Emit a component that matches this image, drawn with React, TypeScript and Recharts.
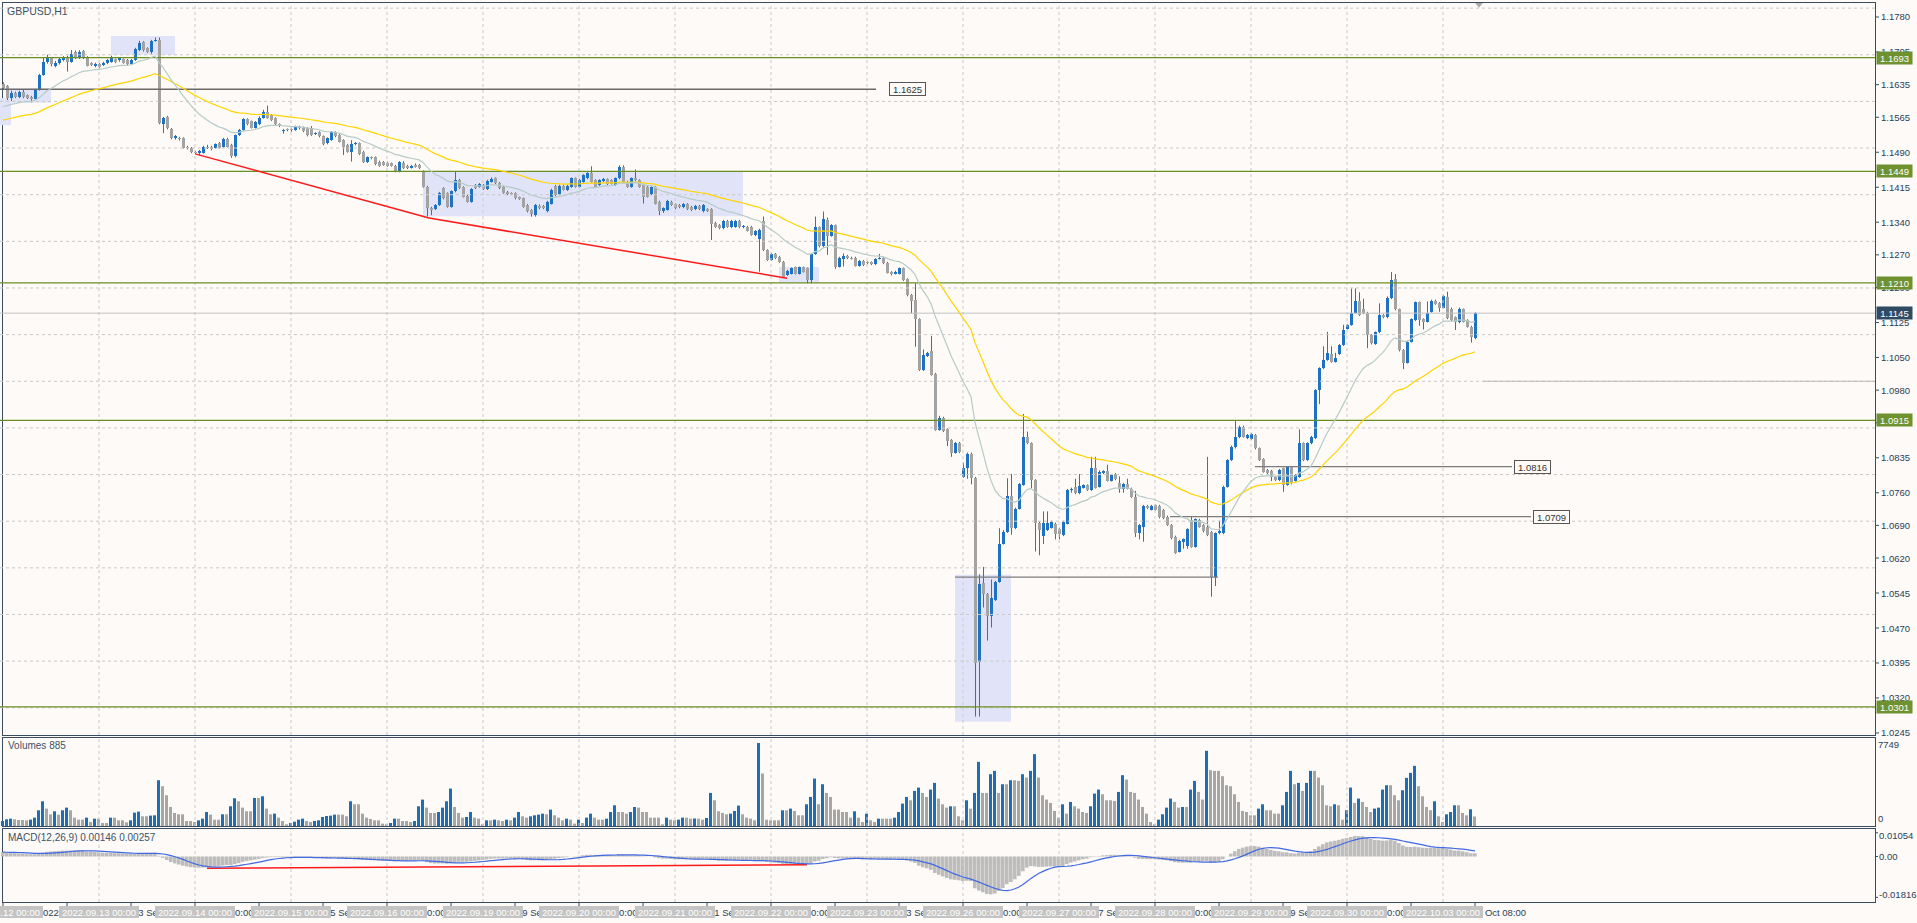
import React from 'react';
import { ComposedChart, Bar, Line, XAxis, YAxis, ReferenceLine, ReferenceArea, ReferenceDot, Cell } from 'recharts';

// ---------------- data (prices in pips: 11627 = 1.1627) ----------------
const openPx = [
  11636,11631,11607,11617,11609,11620,11612,11609,11604,11624,
  11656,11683,11692,11676,11681,11688,11693,11684,11704,11693,
  11708,11694,11681,11674,11679,11677,11681,11684,11689,11687,
  11689,11688,11679,11688,11709,11726,11713,11704,11729,11731,
  11551,11566,11540,11521,11521,11520,11502,11499,11491,11488,
  11489,11502,11502,11500,11509,11502,11519,11506,11481,11527,
  11538,11561,11556,11543,11550,11564,11576,11570,11563,11550,
  11536,11539,11539,11538,11545,11543,11541,11543,11529,11533,
  11524,11509,11516,11533,11527,11516,11506,11491,11507,11509,
  11491,11469,11479,11479,11470,11469,11468,11466,11461,11449,
  11468,11461,11457,11463,11463,11449,11416,11371,11368,11377,
  11413,11402,11373,11406,11431,11415,11397,11384,11420,11416,
  11420,11411,11427,11434,11424,11415,11405,11402,11402,11393,
  11391,11377,11366,11355,11375,11375,11363,11380,11418,11400,
  11418,11409,11416,11434,11416,11427,11434,11445,11430,11420,
  11428,11432,11430,11420,11434,11458,11427,11416,11434,11430,
  11420,11416,11400,11415,11384,11363,11367,11384,11378,11377,
  11372,11379,11373,11368,11375,11363,11368,11368,11339,11334,
  11327,11343,11329,11330,11343,11329,11330,11330,11312,11303,
  11342,11280,11259,11272,11266,11255,11227,11230,11243,11230,
  11243,11241,11216,11272,11329,11288,11345,11311,11333,11245,
  11262,11268,11264,11264,11247,11257,11254,11254,11250,11262,
  11264,11253,11233,11230,11230,11241,11218,11184,11173,11132,
  11023,11053,11063,11015,10895,10921,10896,10873,10846,10867,
  10794,10814,10844,10792,10398,10566,10543,10496,10530,10569,
  10651,10676,10752,10684,10726,10777,10879,10866,10787,10696,
  10667,10680,10685,10694,10683,10669,10694,10766,10773,10759,
  10771,10776,10766,10814,10773,10802,10806,10786,10800,10780,
  10769,10779,10769,10751,10674,10687,10732,10724,10733,10732,
  10723,10709,10691,10666,10634,10654,10646,10702,10644,10702,
  10691,10687,10676,10580,10673,10673,10773,10830,10857,10879,
  10902,10877,10875,10884,10855,10832,10809,10807,10794,10787,
  10812,10777,10815,10786,10794,10866,10830,10866,10877,10980,
  11027,11045,11058,11041,11057,11077,11112,11120,11146,11172,
  11155,11146,11098,11079,11104,11141,11136,11177,11218,11153,
  11066,11039,11084,11130,11168,11132,11127,11148,11172,11167,
  11157,11180,11155,11136,11125,11153,11130,11116,11091,
];
const highPx = [
  11640,11634,11622,11620,11622,11625,11614,11611,11626,11658,
  11692,11699,11694,11686,11693,11696,11697,11709,11708,11709,
  11709,11696,11683,11682,11681,11684,11690,11697,11691,11694,
  11691,11690,11690,11714,11729,11728,11715,11731,11736,11736,
  11566,11568,11542,11527,11523,11522,11504,11501,11493,11495,
  11504,11506,11504,11509,11512,11521,11521,11508,11528,11540,
  11563,11563,11558,11557,11567,11581,11590,11572,11565,11552,
  11540,11541,11541,11547,11547,11545,11543,11546,11533,11535,
  11526,11522,11535,11535,11529,11518,11508,11516,11512,11511,
  11493,11481,11481,11481,11472,11471,11470,11468,11463,11471,
  11471,11463,11463,11466,11465,11451,11418,11373,11379,11405,
  11415,11404,11408,11449,11433,11417,11399,11413,11422,11424,
  11422,11431,11436,11436,11426,11418,11407,11404,11404,11395,
  11393,11379,11368,11379,11378,11377,11386,11412,11420,11420,
  11420,11420,11436,11436,11433,11443,11447,11460,11432,11432,
  11435,11434,11432,11436,11462,11462,11429,11436,11453,11432,
  11422,11418,11417,11417,11386,11372,11388,11386,11380,11379,
  11381,11381,11375,11377,11377,11379,11370,11370,11341,11336,
  11345,11345,11345,11345,11345,11334,11332,11332,11323,11326,
  11352,11282,11274,11274,11268,11257,11238,11243,11245,11245,
  11245,11243,11274,11352,11331,11363,11350,11336,11335,11266,
  11273,11270,11266,11266,11259,11259,11256,11256,11263,11272,
  11266,11255,11235,11236,11243,11243,11220,11186,11209,11134,
  11067,11062,11096,11017,10925,10923,10898,10875,10869,10869,
  10824,10846,10846,10794,10585,10601,10545,10574,10571,10684,
  10680,10791,10800,10728,10781,10929,10891,10868,10789,10698,
  10720,10720,10700,10696,10685,10700,10768,10771,10790,10800,
  10778,10778,10837,10837,10808,10808,10820,10800,10802,10795,
  10781,10790,10771,10764,10693,10734,10734,10734,10735,10734,
  10725,10711,10693,10668,10659,10662,10684,10710,10705,10704,
  10693,10837,10678,10675,10700,10775,10832,10861,10914,10904,
  10904,10886,10888,10886,10857,10834,10811,10809,10796,10811,
  10814,10817,10817,10800,10896,10868,10868,10882,10982,11029,
  11074,11105,11074,11060,11079,11120,11122,11198,11198,11190,
  11176,11148,11100,11106,11166,11143,11181,11233,11229,11155,
  11068,11086,11134,11170,11170,11134,11170,11174,11174,11169,
  11184,11191,11157,11138,11157,11155,11132,11118,11147,
];
const lowPx = [
  11624,11602,11600,11606,11606,11606,11604,11597,11602,11622,
  11654,11680,11674,11672,11678,11685,11663,11682,11690,11690,
  11690,11674,11675,11672,11670,11675,11679,11682,11681,11684,
  11680,11677,11677,11686,11707,11706,11703,11701,11727,11550,
  11531,11539,11518,11517,11515,11498,11496,11488,11485,11484,
  11487,11497,11494,11498,11498,11500,11500,11478,11479,11525,
  11536,11548,11541,11541,11548,11562,11562,11557,11548,11544,
  11530,11535,11534,11536,11539,11533,11524,11525,11527,11522,
  11505,11507,11514,11522,11511,11484,11489,11470,11505,11484,
  11467,11467,11475,11462,11459,11461,11459,11459,11447,11447,
  11454,11454,11455,11457,11454,11414,11352,11355,11366,11375,
  11389,11371,11371,11404,11411,11393,11382,11382,11411,11414,
  11409,11409,11425,11422,11411,11401,11398,11398,11389,11388,
  11371,11361,11352,11352,11368,11368,11361,11378,11396,11398,
  11408,11407,11414,11414,11414,11425,11432,11425,11414,11418,
  11426,11419,11421,11418,11432,11425,11414,11414,11428,11414,
  11380,11393,11398,11378,11355,11360,11365,11375,11368,11370,
  11370,11366,11364,11366,11366,11361,11362,11302,11328,11325,
  11325,11328,11327,11328,11327,11327,11320,11311,11310,11234,
  11278,11257,11257,11261,11253,11221,11225,11228,11228,11228,
  11232,11209,11209,11270,11286,11286,11270,11309,11240,11243,
  11245,11261,11260,11245,11245,11246,11250,11248,11248,11260,
  11250,11230,11226,11228,11228,11214,11181,11145,11073,11021,
  11021,11051,11011,10893,10893,10890,10860,10837,10844,10845,
  10792,10790,10778,10280,10280,10514,10443,10471,10528,10567,
  10649,10674,10670,10682,10724,10775,10864,10770,10634,10626,
  10650,10678,10683,10660,10660,10667,10692,10760,10757,10757,
  10769,10764,10764,10769,10771,10800,10784,10784,10787,10760,
  10760,10767,10749,10665,10660,10655,10725,10722,10722,10705,
  10703,10689,10660,10629,10632,10640,10640,10642,10642,10685,
  10675,10667,10537,10560,10671,10671,10771,10828,10855,10877,
  10878,10875,10873,10853,10828,10803,10800,10785,10785,10785,
  10762,10775,10778,10784,10792,10828,10828,10864,10875,10950,
  11025,11043,11039,11039,11055,11075,11110,11118,11144,11139,
  11143,11070,11078,11077,11102,11134,11134,11175,11151,11063,
  11025,11037,11082,11128,11118,11110,11125,11146,11163,11148,
  11155,11132,11128,11109,11123,11125,11114,11082,11089,
];
const closePx = [
  11627,11607,11618,11609,11619,11609,11607,11604,11624,11656,
  11683,11692,11679,11681,11689,11692,11684,11701,11692,11706,
  11692,11676,11677,11679,11673,11682,11688,11692,11684,11692,
  11682,11679,11688,11712,11724,11709,11706,11729,11731,11552,
  11563,11541,11521,11524,11519,11500,11499,11490,11488,11493,
  11501,11499,11497,11507,11500,11519,11502,11481,11526,11538,
  11561,11550,11543,11554,11564,11577,11564,11559,11550,11546,
  11538,11537,11537,11545,11541,11536,11527,11527,11531,11524,
  11508,11520,11533,11524,11513,11502,11491,11508,11509,11486,
  11470,11479,11477,11464,11461,11463,11461,11461,11449,11469,
  11456,11456,11461,11459,11456,11416,11370,11366,11377,11402,
  11391,11373,11406,11431,11413,11395,11384,11411,11413,11421,
  11411,11429,11433,11424,11413,11403,11400,11400,11391,11390,
  11373,11363,11357,11377,11370,11370,11384,11410,11398,11418,
  11410,11418,11434,11416,11431,11441,11445,11427,11416,11430,
  11433,11421,11423,11434,11459,11427,11416,11434,11430,11416,
  11395,11395,11415,11380,11363,11370,11386,11377,11370,11372,
  11379,11368,11366,11375,11368,11377,11364,11336,11330,11327,
  11343,11330,11343,11343,11329,11332,11322,11313,11321,11323,
  11281,11259,11272,11263,11255,11223,11236,11241,11230,11243,
  11234,11216,11272,11329,11288,11347,11311,11334,11245,11264,
  11268,11263,11262,11247,11257,11248,11252,11250,11261,11264,
  11252,11232,11228,11234,11241,11216,11183,11172,11132,11023,
  11055,11060,11013,10895,10921,10892,10872,10846,10867,10847,
  10812,10844,10792,10396,10564,10543,10496,10534,10569,10651,
  10676,10752,10684,10726,10779,10879,10866,10787,10696,10680,
  10696,10696,10698,10671,10671,10698,10766,10769,10759,10774,
  10776,10766,10814,10771,10805,10806,10786,10798,10789,10769,
  10779,10769,10751,10674,10691,10732,10727,10732,10724,10707,
  10705,10691,10662,10631,10657,10660,10682,10644,10703,10687,
  10677,10669,10580,10673,10677,10773,10830,10859,10879,10902,
  10880,10884,10886,10855,10830,10805,10802,10794,10787,10809,
  10777,10815,10780,10798,10866,10830,10866,10880,10980,11027,
  11045,11059,11041,11048,11077,11109,11120,11146,11172,11141,
  11145,11098,11080,11104,11141,11136,11177,11216,11153,11065,
  11039,11084,11132,11168,11130,11127,11146,11172,11165,11157,
  11182,11134,11130,11127,11155,11127,11116,11093,11145,
];
const volumes = [
  468,624,686,624,562,562,530,593,780,1466,
  2309,1622,1092,1373,1061,1466,1716,1466,780,593,
  593,780,374,686,686,281,281,780,780,530,
  530,343,530,1248,1342,905,905,967,998,4274,
  3713,2870,1778,1217,1092,1092,468,468,374,530,
  686,1310,1061,593,593,1092,1092,1841,2590,2309,
  1716,1373,1373,2621,2621,2777,1622,1092,1154,780,
  468,156,281,406,593,686,468,374,468,530,
  842,936,967,1061,1061,1061,905,2309,2028,2028,
  1154,780,655,530,530,218,156,281,686,686,
  468,468,374,468,1841,2465,1716,1217,1217,1310,
  1716,2309,3494,1778,1217,780,842,1310,780,686,
  156,530,530,593,530,468,593,530,780,1310,
  905,780,905,998,1061,1154,1092,1529,998,780,
  530,686,593,218,593,281,780,1154,780,593,
  593,686,1310,1934,1310,1310,1154,1310,1778,1716,
  1310,1310,780,780,780,156,780,593,530,593,
  780,780,686,700,686,593,749,3089,2402,1373,
  1217,1092,1154,1404,1903,1092,780,686,530,7749,
  4898,593,530,530,530,1466,1466,1622,1404,998,
  998,2028,2714,4430,2028,3900,3089,2714,1529,1529,
  1310,1310,780,1373,780,374,1154,530,374,686,
  686,686,686,780,1310,2090,2714,2402,3276,3588,
  3089,2714,3401,4025,2558,2028,1716,1841,1841,905,
  530,2402,1622,3089,5990,3089,3089,4836,5148,3089,
  3900,3900,4274,4274,4212,4836,4524,5148,6708,4524,
  2870,2465,2153,1404,780,2028,1154,2246,1841,1622,
  1310,1217,1841,3026,3401,2964,2402,2402,2340,3182,
  4742,4337,3182,3089,2465,1778,1154,374,156,593,
  1092,1716,2558,2246,1716,1778,1778,3401,4212,3182,
  2465,7020,5210,5148,5148,4649,3806,3713,2964,2246,
  1404,1310,998,998,1622,2028,1466,1466,1154,1154,
  1934,3182,5148,3900,4025,3276,4025,5148,5148,4524,
  3806,1934,1841,2028,1934,593,1466,3588,2153,2558,
  2246,1778,1310,1622,1716,3401,3806,3806,2870,2402,
  3338,4493,4961,5616,3713,2777,1778,1466,2309,905,
  374,1092,1310,1934,1934,1217,998,1560,885,
];

// time axis
const dayStarts = [0, 24, 48, 72, 96, 120, 144, 168, 192, 216, 240, 264, 288, 312, 336, 360];
const dayLabels = [
  '2022.09.12 00:00', '2022.09.13 00:00', '2022.09.14 00:00', '2022.09.15 00:00', '2022.09.16 00:00',
  '2022.09.19 00:00', '2022.09.20 00:00', '2022.09.21 00:00', '2022.09.22 00:00', '2022.09.23 00:00',
  '2022.09.26 00:00', '2022.09.27 00:00', '2022.09.28 00:00', '2022.09.29 00:00', '2022.09.30 00:00',
  '2022.10.03 00:00',
];
const timeTicks = [0, 16, 32, 48, 64, 80, 96, 112, 128, 144, 160, 176, 192, 208, 224, 240, 256, 272, 288, 304, 320, 336, 352, 368];
const timeTickLabels = [
  '12 Sep 2022', '12 Sep 16:00', '13 Sep 08:00', '14 Sep 00:00', '14 Sep 16:00', '15 Sep 08:00',
  '16 Sep 00:00', '16 Sep 16:00', '19 Sep 08:00', '20 Sep 00:00', '20 Sep 16:00', '21 Sep 08:00',
  '22 Sep 00:00', '22 Sep 16:00', '23 Sep 08:00', '26 Sep 00:00', '26 Sep 16:00', '27 Sep 08:00',
  '28 Sep 00:00', '28 Sep 16:00', '29 Sep 08:00', '30 Sep 00:00', '30 Sep 16:00', '3 Oct 08:00',
];

// price axis & levels
const priceTicks = [11780, 11705, 11635, 11565, 11490, 11415, 11340, 11270, 11200, 11125, 11050, 10980, 10910, 10835, 10760, 10690, 10620, 10545, 10470, 10395, 10320, 10245];
const gridPrices = [11799, 11699, 11599, 11499, 11399, 11299, 11199, 11099, 10999, 10899, 10799, 10699, 10599, 10499, 10399, 10299];
const greenLevels = [11693, 11449, 11210, 10915, 10301];
const bidPrice = 11145;
const segLines = [
  { p: 11625, from: -0.75, to: 218.25, tag: true, gap: 13 },
  { p: 10816, from: 313, to: 377.25, tag: true, gap: 2 },
  { p: 10709, from: 291.75, to: 382, tag: true, gap: 2 },
  { p: 10579, from: 238, to: 303.75, tag: false, gap: 0 },
];
const roundLine = { p: 10999, from: 370, to: 468 };
const boxes = [
  { x1: -0.75, x2: 2, y1: 11548, y2: 11606 },
  { x1: 1, x2: 12, y1: 11596, y2: 11626 },
  { x1: 27, x2: 43, y1: 11699, y2: 11739 },
  { x1: 105, x2: 185, y1: 11353, y2: 11448 },
  { x1: 194, x2: 204, y1: 11210, y2: 11244 },
  { x1: 238, x2: 252, y1: 10269, y2: 10584 },
];
const trendPts = [
  { i: 48.25, p: 11486 },
  { i: 106.5, p: 11349 },
  { i: 196, p: 11220 },
];
const macdTrend = [
  { i: 51, v: -0.0052 },
  { i: 201, v: -0.0037 },
];
const shiftMarker = { i: 369, p: 11800 };

// indicator settings / seeds (values at the left edge)
const FAST_PERIOD = 20, FAST_SEED = 11584;
const SLOW_PERIOD = 50, SLOW_SEED = 11556;
const EMA12_SEED = 11612, EMA26_SEED = 11592, SIGNAL_SEED = 0.0019;
const macdTicks = [0.01054, 0, -0.01816];
const volTicks = [7749, 0];

// ---------------- derived ----------------
const emaSeries = (src: number[], period: number, seed: number) => {
  const k = 2 / (period + 1);
  let prev = seed;
  return src.map((v) => (prev = prev + k * (v - prev)));
};
const fast = emaSeries(closePx, FAST_PERIOD, FAST_SEED);
const slow = emaSeries(closePx, SLOW_PERIOD, SLOW_SEED);
const e12 = emaSeries(closePx, 12, EMA12_SEED);
const e26 = emaSeries(closePx, 26, EMA26_SEED);
const macdMain = e12.map((v, i) => (v - e26[i]) / 10000);
const macdSignal = macdMain.map((_, i) => {
  let s = 0;
  for (let k = i - 8; k <= i; k++) s += k >= 0 ? macdMain[k] : SIGNAL_SEED;
  return s / 9;
});

const rows = closePx.map((c, i) => ({
  i,
  o: openPx[i],
  h: highPx[i],
  l: lowPx[i],
  c,
  v: volumes[i],
  fast: fast[i],
  slow: slow[i],
  macd: macdMain[i],
  signal: macdSignal[i],
}));

// ---------------- styling ----------------
const FONT = '"Liberation Sans", Arial, sans-serif';
const BG = '#fdfaf8';
const AXT = '#2b4157';
const FRAME = '#3a4d60';
const GRID = '#c9c9c9';
const C_UP = '#1f71c2';
const C_DN = '#a3a3a3';
const WICK = '#5d6a72';
const GREEN = '#6b8e23';
const TF = 9.5;
const X_DOMAIN: [number, number] = [-0.75, 468];
const PRICE_DOMAIN: [number, number] = [10240.6, 11810];
const VOL_DOMAIN: [number, number] = [0, 8216];
const MACD_DOMAIN: [number, number] = [-0.02022, 0.01222];
const fmtP = (p: number) => (p / 10000).toFixed(4);

const CandleShape = (props: any) => {
  const { x, y, width, height, payload } = props;
  if (!payload || height == null || isNaN(y)) return null;
  const { o, h, l, c } = payload;
  const cx = Math.round(x + width / 2);
  const span = h - l || 1;
  const yOf = (v: number) => y + ((h - v) / span) * height;
  const top = Math.round(yOf(Math.max(o, c)));
  const bot = Math.round(yOf(Math.min(o, c)));
  const up = c >= o;
  return (
    <g>
      <line x1={cx + 0.5} x2={cx + 0.5} y1={y} y2={y + height} stroke={WICK} strokeWidth={1} />
      <rect x={cx - 1} y={top} width={3} height={Math.max(1, bot - top)} fill={up ? C_UP : C_DN} />
    </g>
  );
};

const PriceTick = (p: any) => (
  <text x={p.x} y={p.y + 3.5} fontSize={TF} fontFamily={FONT} fill={AXT} textAnchor="start">
    {fmtP(p.payload.value)}
  </text>
);
const VolTick = (p: any) => (
  <text x={p.x - 1} y={p.payload.value === 0 ? p.y - 4 : p.y + 4.5} fontSize={TF} fontFamily={FONT} fill={AXT} textAnchor="start">
    {String(p.payload.value)}
  </text>
);
const macdTickText = (v: number) => (v === 0 ? '0.00' : v.toFixed(5));
const MacdTick = (p: any) => {
  const v = p.payload.value;
  const adj = v > 0 ? 3 : v < 0 ? -3 : 0;
  return (
    <text x={p.x - 1} y={p.y + 3.5 + adj} fontSize={TF} fontFamily={FONT} fill={AXT} textAnchor="start">
      {macdTickText(v)}
    </text>
  );
};
const TimeTick = (p: any) => {
  const idx = timeTicks.indexOf(p.payload.value);
  return (
    <text x={p.x + 2} y={p.y + 8} fontSize={TF} fontFamily={FONT} fill={AXT} textAnchor="start">
      {timeTickLabels[idx]}
    </text>
  );
};
const DayTick = (p: any) => {
  const idx = dayStarts.indexOf(p.payload.value);
  return (
    <g>
      <rect x={p.x - 40} y={p.y + 4} width={80} height={12} fill="#c4c4c4" />
      <text x={p.x} y={p.y + 13.5} textAnchor="middle" fontSize={TF} fontFamily={FONT} fill="#ffffff">
        {dayLabels[idx]}
      </text>
    </g>
  );
};

const tagLabel = (text: string, bg: string, fg: string, gap: number, border?: string) => (props: any) => {
  const vb = props.viewBox || {};
  const x = (vb.x ?? 0) + (vb.width ?? 0) + gap;
  const y = vb.y ?? 0;
  return (
    <g>
      <rect x={x + 0.5} y={Math.round(y) - 6.5} width={36} height={13} fill={bg} stroke={border || 'none'} />
      <text x={x + 18.5} y={Math.round(y) + 3.5} textAnchor="middle" fontSize={TF} fontFamily={FONT} fill={fg}>
        {text}
      </text>
    </g>
  );
};

const ShiftShape = (p: any) => (
  <path d={`M${p.cx - 4},${p.cy - 5}L${p.cx + 4},${p.cy - 5}L${p.cx},${p.cy}Z`} fill="#a9a9a9" />
);

const abs = (left: number, top: number, width: number, height: number): React.CSSProperties => ({
  position: 'absolute', left, top, width, height,
});

export default function App() {
  return (
    <div style={{ ...abs(0, 0, 1917, 923), background: BG, overflow: 'hidden', fontFamily: FONT }}>
      {/* pane frames */}
      <div style={{ ...abs(2, 2, 1874, 734), border: `1px solid ${FRAME}`, boxSizing: 'border-box' }} />
      <div style={{ ...abs(2, 737, 1874, 90), border: `1px solid ${FRAME}`, boxSizing: 'border-box' }} />
      <div style={{ ...abs(2, 828, 1874, 75), border: `1px solid ${FRAME}`, boxSizing: 'border-box' }} />

      {/* main price pane (extra 8px bottom margin so the lowest label is not clipped) */}
      <div style={abs(0, 3, 1917, 740)}>
        <ComposedChart width={1917} height={740} data={rows} margin={{ top: 0, right: 0, bottom: 8, left: 0 }}>
          <XAxis dataKey="i" type="number" domain={X_DOMAIN} hide allowDataOverflow />
          <YAxis orientation="right" width={42} domain={PRICE_DOMAIN} ticks={priceTicks} interval={0}
            tick={PriceTick} tickSize={4} tickLine={{ stroke: FRAME }} axisLine={false} allowDataOverflow />
          {gridPrices.map((g) => (
            <ReferenceLine key={'hg' + g} y={g} stroke={GRID} strokeDasharray="3 3" />
          ))}
          {dayStarts.slice(1).map((d) => (
            <ReferenceLine key={'vg' + d} x={d} stroke={GRID} strokeDasharray="3 3" />
          ))}
          {boxes.map((b, k) => (
            <ReferenceArea key={'bx' + k} x1={b.x1} x2={b.x2} y1={b.y1} y2={b.y2} fill="#e1e4f8" fillOpacity={1} stroke="none" ifOverflow="visible" />
          ))}
          <ReferenceLine y={bidPrice} stroke="#c2c2c2" />
          <ReferenceLine segment={[{ x: roundLine.from, y: roundLine.p }, { x: roundLine.to, y: roundLine.p }]} stroke="#b9b9b9" />
          {greenLevels.map((p) => (
            <ReferenceLine key={'gl' + p} y={p} stroke={GREEN} strokeWidth={1.2} />
          ))}
          {segLines.map((s) => (
            <ReferenceLine key={'sl' + s.p} segment={[{ x: s.from, y: s.p }, { x: s.to, y: s.p }]}
              stroke={s.p === 11625 ? '#6a6a6a' : '#7c7c7c'} strokeWidth={s.p === 11625 ? 1.6 : 1.2} />
          ))}
          {trendPts.slice(1).map((pt, k) => (
            <ReferenceLine key={'tr' + k} segment={[{ x: trendPts[k].i, y: trendPts[k].p }, { x: pt.i, y: pt.p }]} stroke="#ff1a1a" strokeWidth={1.5} />
          ))}
          <ReferenceDot x={shiftMarker.i} y={shiftMarker.p} r={4} shape={ShiftShape} ifOverflow="visible" />
          <Line dataKey="slow" stroke="#ffd400" strokeWidth={1.2} dot={false} isAnimationActive={false} />
          <Line dataKey="fast" stroke="#b6cbc8" strokeWidth={1.2} dot={false} isAnimationActive={false} />
          <Bar dataKey={(d: any) => [d.l, d.h]} barSize={3} shape={CandleShape} isAnimationActive={false} />
        </ComposedChart>
      </div>

      {/* price tags overlay */}
      <div style={abs(0, 3, 1917, 732)}>
        <ComposedChart width={1917} height={732} data={rows} margin={{ top: 0, right: 0, bottom: 0, left: 0 }}>
          <XAxis dataKey="i" type="number" domain={X_DOMAIN} hide allowDataOverflow />
          <YAxis orientation="right" width={42} domain={PRICE_DOMAIN} tick={false} tickLine={false} axisLine={false} allowDataOverflow />
          {greenLevels.map((p) => (
            <ReferenceLine key={'gt' + p} y={p} stroke="none" label={tagLabel(fmtP(p), '#6f9130', '#ffffff', 1)} />
          ))}
          <ReferenceLine y={bidPrice} stroke="none" label={tagLabel(fmtP(bidPrice), '#2f4b63', '#ffffff', 1)} />
          {segLines.filter((s) => s.tag).map((s) => (
            <ReferenceLine key={'st' + s.p} segment={[{ x: s.from, y: s.p }, { x: s.to, y: s.p }]} stroke="none"
              label={tagLabel(fmtP(s.p), BG, '#333333', s.gap, '#555555')} />
          ))}
        </ComposedChart>
      </div>

      {/* volume pane */}
      <div style={abs(0, 738, 1917, 88)}>
        <ComposedChart width={1917} height={88} data={rows} margin={{ top: 0, right: 0, bottom: 0, left: 0 }}>
          <XAxis dataKey="i" type="number" domain={X_DOMAIN} hide allowDataOverflow />
          <YAxis orientation="right" width={42} domain={VOL_DOMAIN} ticks={volTicks} interval={0}
            tick={VolTick} tickSize={2} tickLine={false} axisLine={false} allowDataOverflow />
          {dayStarts.slice(1).map((d) => (
            <ReferenceLine key={'vv' + d} x={d} stroke={GRID} strokeDasharray="3 3" />
          ))}
          <Bar dataKey="v" barSize={3} isAnimationActive={false}>
            {rows.map((r, i) => (
              <Cell key={'vc' + i} fill={i === 0 || r.v > rows[i - 1].v ? '#1f6db4' : '#a6a6a6'} />
            ))}
          </Bar>
        </ComposedChart>
      </div>

      {/* MACD pane + time axis */}
      <div style={abs(0, 829, 1917, 94)}>
        <ComposedChart width={1917} height={94} data={rows} margin={{ top: 0, right: 0, bottom: 0, left: 0 }}>
          <XAxis dataKey="i" type="number" domain={X_DOMAIN} ticks={timeTicks} interval={0} height={21}
            tickSize={4} tickLine={{ stroke: FRAME }} axisLine={false} tick={TimeTick} allowDataOverflow />
          <YAxis orientation="right" width={42} domain={MACD_DOMAIN} ticks={macdTicks} interval={0}
            tick={MacdTick} tickSize={3} tickLine={{ stroke: FRAME }} axisLine={false} allowDataOverflow />
          {dayStarts.slice(1).map((d) => (
            <ReferenceLine key={'mv' + d} x={d} stroke={GRID} strokeDasharray="3 3" />
          ))}
          <Bar dataKey="macd" fill="#bdbdbd" barSize={4} isAnimationActive={false} />
          <ReferenceLine segment={[{ x: macdTrend[0].i, y: macdTrend[0].v }, { x: macdTrend[1].i, y: macdTrend[1].v }]} stroke="#ff1a1a" strokeWidth={1.5} />
          <Line dataKey="signal" stroke="#4169e1" strokeWidth={1.2} dot={false} isAnimationActive={false} />
        </ComposedChart>
      </div>

      {/* day separator labels on time axis */}
      <div style={abs(0, 897, 1917, 26)}>
        <ComposedChart width={1917} height={26} data={rows} margin={{ top: 0, right: 0, bottom: 0, left: 0 }}>
          <XAxis dataKey="i" type="number" domain={X_DOMAIN} ticks={dayStarts} interval={0} height={21}
            tickSize={0} tickMargin={0} tickLine={false} axisLine={false} tick={DayTick} allowDataOverflow />
          <YAxis orientation="right" width={42} domain={[0, 1]} tick={false} tickLine={false} axisLine={false} />
        </ComposedChart>
      </div>

      {/* pane titles */}
      <div style={{ ...abs(7, 5, 200, 12), fontSize: 10.5, lineHeight: '12px', color: '#3d5266' }}>GBPUSD,H1</div>
      <div style={{ ...abs(8, 740, 200, 12), fontSize: 10, lineHeight: '12px', color: '#3d5266' }}>Volumes 885</div>
      <div style={{ ...abs(8, 832, 300, 12), fontSize: 10, lineHeight: '12px', color: '#3d5266' }}>MACD(12,26,9) 0.00146 0.00257</div>
    </div>
  );
}
